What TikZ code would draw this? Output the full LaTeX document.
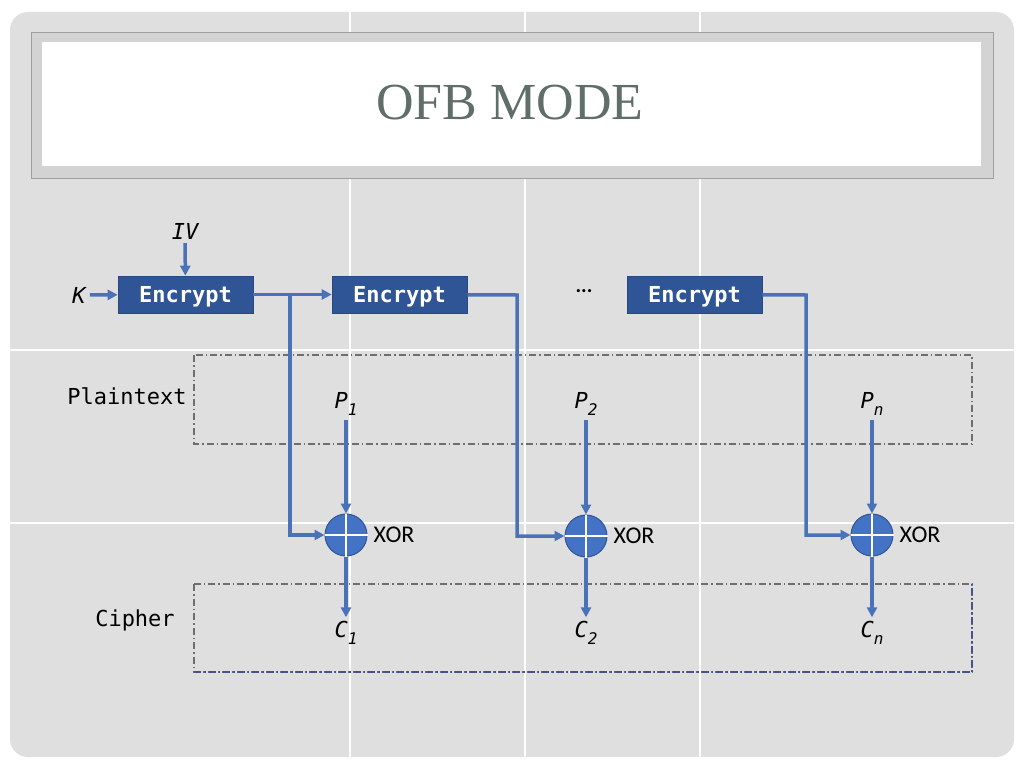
\documentclass[tikz,border=0pt]{standalone}
\usepackage{fontspec}
\usepackage{tikz}
\usetikzlibrary{arrows.meta,positioning}

\newfontfamily\monofont{DejaVu Sans Mono}
\newfontfamily\calfont{Carlito}
\newfontfamily\titlefont{Liberation Serif}
\newcommand{\idx}[1]{\raisebox{-0.3em}{\fontsize{16}{16}\selectfont #1}}

\definecolor{encblue}{HTML}{2F5597}
\definecolor{lineblue}{HTML}{4A72B8}
\definecolor{xorfill}{HTML}{4472C4}
\definecolor{slidegray}{HTML}{DFDFDF}
\definecolor{framegray}{HTML}{D3D3D3}
\definecolor{titlegray}{HTML}{5F6E69}
\definecolor{boxline}{HTML}{6E6E6E}
\definecolor{boxblue}{HTML}{46528C}

\begin{document}
\begin{tikzpicture}[x=1pt, y=-1pt, node distance={131pt},
        encbox/.style = {fill=encblue, draw=encblue!85!black, line width=0.6, minimum width=135, minimum height=37, inner sep=0, text=white, text height=15pt, text depth=0pt, font=\monofont\bfseries\fontsize{22}{22}\selectfont},
        xorc/.style = {circle, fill=xorfill, draw=encblue, line width=1, minimum size=42, inner sep=0},
        lbl/.style = {font=\monofont\itshape\fontsize{22}{22}\selectfont, inner sep=4},
        rowlbl/.style = {font=\monofont\fontsize{22}{22}\selectfont},
        xorlbl/.style = {font=\calfont\fontsize{24}{24}\selectfont, inner sep=2},
        flow/.style = {draw=lineblue, line width=3.5, -{Triangle[length=10pt,width=10pt]}},
        region/.style = {draw=boxline, line width=1.1, dash pattern=on 7pt off 3pt on 1.5pt off 3pt}]
    \useasboundingbox (0,0) rectangle (1024,768);
    \fill[white] (0,0) rectangle (1024,768);
    \fill[slidegray, rounded corners=18] (10,12) rectangle (1014,757);
    \draw[white, line width=1.2] (350,12) -- (350,757) (525,12) -- (525,757) (700,12) -- (700,757);
    \draw[white, line width=1.2] (10,350) -- (1014,350) (10,523) -- (1014,523);

    \draw[fill=framegray, draw=gray!75] (31,32) rectangle (993,178);
    \fill[white] (42,42) rectangle (981,166);
    \node[font=\titlefont\fontsize{52}{52}\selectfont, text=titlegray] (title) at (510,103) {OFB MODE};

    \draw[region] (194,355) rectangle (972,444);
    \draw[region] (194,584) rectangle (972,672);
    \draw[region, draw=boxblue] (194,672) -- (972,672) -- (972,584);
    \node[rowlbl] (plain) at (127,396) {Plaintext};
    \node[rowlbl] (ciph) at (135,620) {Cipher};

    \node[encbox] (e1) at (185.5,294.5) {Encrypt};
    \node[encbox] (e2) at (399.5,294.5) {Encrypt};
    \node[encbox] (e3) at (694.5,294.5) {Encrypt};
    \node[font=\calfont\bfseries\fontsize{21}{21}\selectfont] (dots) at (584,291) {...};
    \node[lbl] (iv) at (185,231) {IV};
    \node[lbl] (k) at (79,295) {K};

    \node[xorc] (x1) at (346,535) {};
    \node[xorc] (x2) at (586,536) {};
    \node[xorc] (x3) at (872,535) {};
    \draw[white, line width=2] (x1.north) -- (x1.south) (x1.west) -- (x1.east);
    \draw[white, line width=2] (x2.north) -- (x2.south) (x2.west) -- (x2.east);
    \draw[white, line width=2] (x3.north) -- (x3.south) (x3.west) -- (x3.east);
    \node[xorlbl, right=4pt of x1] (xl1) {XOR};
    \node[xorlbl, right=4pt of x2] (xl2) {XOR};
    \node[xorlbl, right=4pt of x3] (xl3) {XOR};

    \node[lbl] (p1) [above of=x1] {P\idx{1}};
    \node[lbl] (p2) [above of=x2, node distance=132pt] {P\idx{2}};
    \node[lbl] (p3) [above of=x3] {P\idx{n}};
    \node[lbl] (c1) [below of=x1, node distance=98pt] {C\idx{1}};
    \node[lbl] (c2) [below of=x2, node distance=97pt] {C\idx{2}};
    \node[lbl] (c3) [below of=x3, node distance=98pt] {C\idx{n}};

    \coordinate (b1) at (290,295);
    \coordinate (b2) at (517,295);
    \coordinate (b3) at (806,295);

    \draw[flow] (iv) -- (e1);
    \draw[flow] (k) -- (e1);
    \draw[flow] (e1) -- (e2);
    \draw[flow] (b1) |- (x1);
    \draw[flow] (e2) -- (b2) |- (x2);
    \draw[flow] (e3) -- (b3) |- (x3);
    \draw[flow] (p1) -- (x1);
    \draw[flow] (p2) -- (x2);
    \draw[flow] (p3) -- (x3);
    \draw[flow] (x1) -- (c1);
    \draw[flow] (x2) -- (c2);
    \draw[flow] (x3) -- (c3);
\end{tikzpicture}
\end{document}
